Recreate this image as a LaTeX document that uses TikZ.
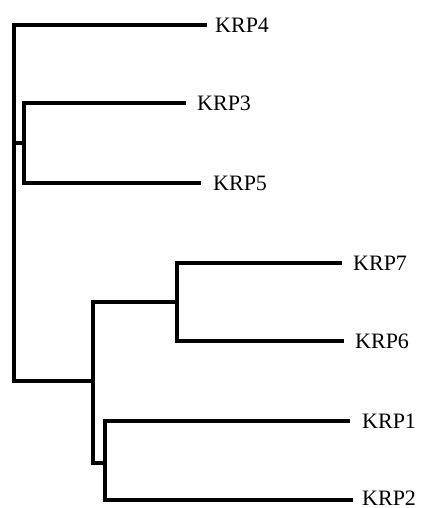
\documentclass[tikz,border=0pt]{standalone}
\usepackage{fontspec}
\setmainfont{Liberation Serif}
\begin{document}
\begin{tikzpicture}[x=1pt,y=-1pt,
  branch/.style={line width=4.8pt, line cap=butt, line join=miter},
  leaf/.style={anchor=west, inner sep=0pt, font=\fontsize{22}{26}\selectfont}]
\useasboundingbox (0,0) rectangle (422,508);
% leaf tips
\coordinate (t4) at (207,25);
\coordinate (t3) at (186,103);
\coordinate (t5) at (201,183);
\coordinate (t7) at (342,263);
\coordinate (t6) at (344,341);
\coordinate (t1) at (350,421);
\coordinate (t2) at (353,500);
% internal nodes
\coordinate (n0) at (14,381);
\coordinate (nA) at (24,143);
\coordinate (nD) at (93,381);
\coordinate (nB) at (177,302);
\coordinate (nC) at (105,463);
% labels (a positive yshift moves a label up)
\node[leaf] (KRP4) at ([xshift=8pt]t4) {KRP4};
\node[leaf] (KRP3) at ([xshift=11pt]t3) {KRP3};
\node[leaf] (KRP5) at ([xshift=12pt]t5) {KRP5};
\node[leaf] (KRP7) at ([xshift=11pt]t7) {KRP7};
\node[leaf] (KRP6) at ([xshift=11pt]t6) {KRP6};
\node[leaf] (KRP1) at ([xshift=12pt]t1) {KRP1};
\node[leaf] (KRP2) at ([xshift=9pt,yshift=2pt]t2) {KRP2};
% branches
\draw[branch] (t4) -| (n0) -- (nD);
\draw[branch] (n0 |- nA) -- (nA);
\draw[branch] (t3) -| (nA) |- (t5);
\draw[branch] (nB) -| (nD) |- (nC);
\draw[branch] (t7) -| (nB) |- (t6);
\draw[branch] (t1) -| (nC) |- (t2);
\end{tikzpicture}
\end{document}
